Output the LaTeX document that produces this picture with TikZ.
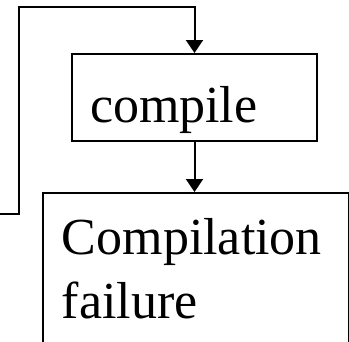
\documentclass[tikz,border=0pt]{standalone}
\usepackage{fontspec}
\setmainfont{Liberation Serif}
\usetikzlibrary{arrows.meta, positioning}

\begin{document}
\begin{tikzpicture}[x=1pt, y=1pt, font=\fontsize{52}{64}\selectfont, >={Triangle[width=17pt,length=13pt]}, line width=2pt]
    % Styles
    \tikzstyle{stepbox} = [draw, rectangle, anchor=north west, align=left, inner ysep=0pt]

    \useasboundingbox (0,0) rectangle (349,-341);

    % Nodes
    \node (compile) [stepbox, minimum width=245pt, inner xsep=18pt, text width=209pt, text height=68pt, text depth=19pt] at (71,-53) {compile};
    \node (failure) [stepbox, line width=1.8pt, minimum width=306pt, minimum height=151pt, inner xsep=19pt, text width=268pt] at (42,-192) {Compilation\\failure};

    % Loop coming back in from the left
    \coordinate (back) at (-5,-213.5);
    \coordinate (corner) at (19,-7);

    % Paths
    \draw [->] (back) -| (corner) -| (compile.north);
    \draw [->] (compile.south) -- (compile.south |- failure.north);

\end{tikzpicture}
\end{document}
